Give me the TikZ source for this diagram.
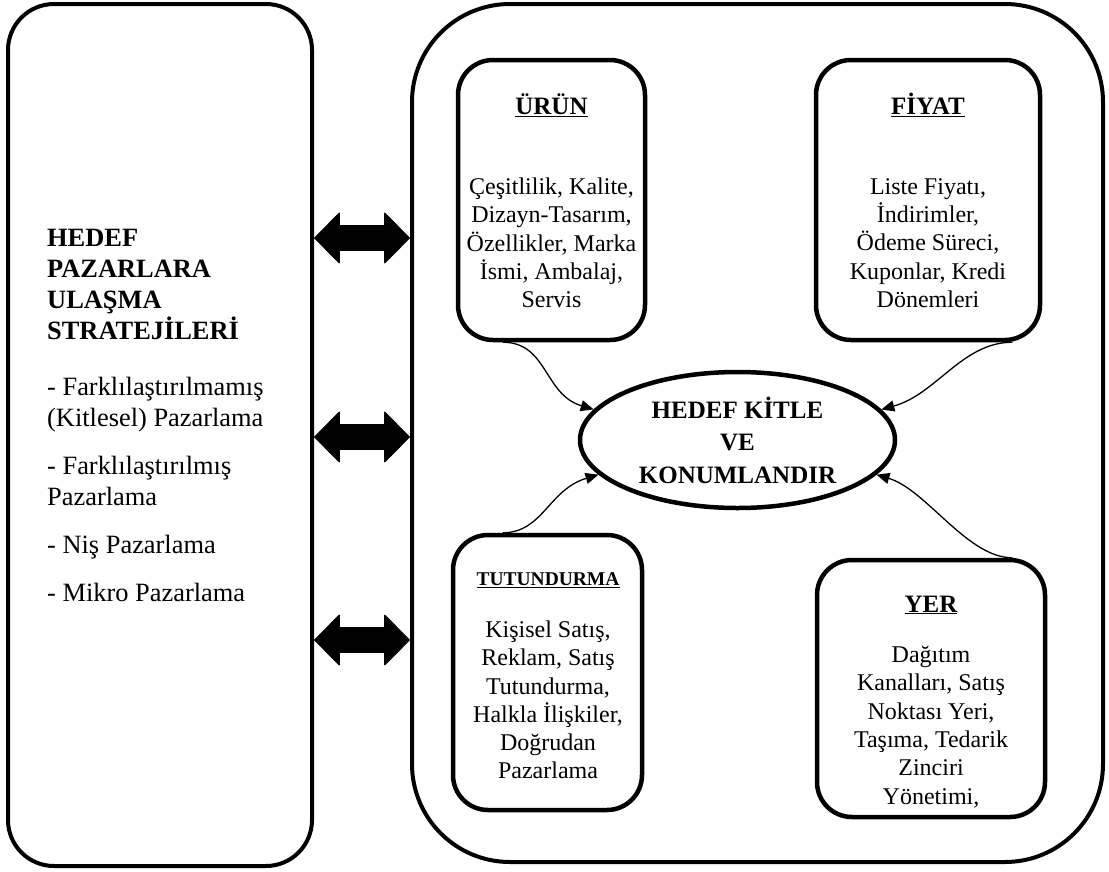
\documentclass[tikz,border=0pt]{standalone}
\usepackage{fontspec}
\setmainfont{Liberation Serif}
\usetikzlibrary{arrows.meta,shapes.geometric}
\begin{document}
\begin{tikzpicture}[x=1pt,y=-1pt,
  bigbox/.style={draw,line width=4pt,inner sep=0pt},
  mixbox/.style={draw,line width=4.5pt,rounded corners=35pt,inner sep=0pt},
  boxhead/.style={font=\fontsize{25}{29}\selectfont\bfseries,inner sep=0pt},
  boxbody/.style={font=\fontsize{24}{28.3}\selectfont,align=center,inner sep=0pt},
  link/.style={line width=1.3pt,-{Triangle[length=13pt 0 0,width=11pt 0 0]}},
  fatarrow/.style={line width=26pt,
    {Triangle[length=26pt 0 0,width=52pt 0 0,line width=1pt 0 0,round]}-{Triangle[length=26pt 0 0,width=52pt 0 0,line width=1pt 0 0,round]}}
]
\useasboundingbox (0,0) rectangle (1109,871);

% outer frames
\node[bigbox,rounded corners=46pt,minimum width=304pt,minimum height=862pt] (L) at (160,435) {};
\node[bigbox,rounded corners=98pt,minimum width=691pt,minimum height=858pt] (B) at (757.5,433) {};

% strategy list
\node[anchor=north west,align=left,inner sep=0pt,font=\fontsize{26.4}{31}\selectfont] (Lt) at (47,229)
  {\textbf{HEDEF}\\\textbf{PAZARLARA}\\\textbf{ULAŞMA}\\\textbf{STRATEJİLERİ}\\[25pt]
   - Farklılaştırılmamış\\(Kitlesel) Pazarlama\\[17pt]
   - Farklılaştırılmış\\Pazarlama\\[17pt]
   - Niş Pazarlama\\[17pt]
   - Mikro Pazarlama};

% marketing mix boxes
\node[mixbox,minimum width=187pt,minimum height=280pt] (U) at (551.5,200) {};
\node[mixbox,minimum width=224pt,minimum height=280pt] (F) at (928,200) {};
\node[mixbox,minimum width=189pt,minimum height=275pt] (T) at (547.5,672.5) {};
\node[mixbox,minimum width=228pt,minimum height=257pt] (Y) at (931,688.5) {};

\node[boxhead] (Uh) at (551.5,105) {\underline{ÜRÜN}};
\node[boxbody] (Ub) at (551.5,243) {Çeşitlilik, Kalite,\\Dizayn-Tasarım,\\Özellikler, Marka\\İsmi, Ambalaj,\\Servis};
\node[boxhead] (Fh) at (928,105) {\underline{FİYAT}};
\node[boxbody] (Fb) at (928,243) {Liste Fiyatı,\\İndirimler,\\Ödeme Süreci,\\Kuponlar, Kredi\\Dönemleri};
\node[boxhead,font=\fontsize{19.5}{23}\selectfont\bfseries] (Th) at (548,580) {\underline{TUTUNDURMA}};
\node[boxbody] (Tb) at (548,700) {Kişisel Satış,\\Reklam, Satış\\Tutundurma,\\Halkla İlişkiler,\\Doğrudan\\Pazarlama};
\node[boxhead] (Yh) at (931,605) {\underline{YER}};
\node[boxbody] (Yb) at (931,727) {Dağıtım\\Kanalları, Satış\\Noktası Yeri,\\Taşıma, Tedarik\\Zinciri\\Yönetimi,};

% target audience
\node[ellipse,draw,line width=4.5pt,inner sep=0pt,minimum width=315pt,minimum height=136pt,
  align=center,font=\fontsize{25}{32.5}\selectfont\bfseries] (E) at (737.5,440)
  {HEDEF KİTLE\\VE\\KONUMLANDIR};

% two-way links between the strategies and the mix
\coordinate (a1) at (0,238);
\coordinate (a2) at (0,437);
\coordinate (a3) at (0,640);
\draw[fatarrow] (L.east |- a1) -- (B.west |- a1);
\draw[fatarrow] (L.east |- a2) -- (B.west |- a2);
\draw[fatarrow] (L.east |- a3) -- (B.west |- a3);

% mix elements feeding the target audience
\draw[link] ([xshift=47pt]U.south west) .. controls +(45,0) and +(-50,-15) .. (E.168);
\draw[link] ([xshift=-30pt]F.south east) .. controls +(-50,0) and +(55,-15) .. (E.12);
\draw[link] ([xshift=52pt]T.north west) .. controls +(40,0) and +(-50,15) .. (E.194);
\draw[link] ([xshift=-35pt]Y.north east) .. controls +(-45,0) and +(50,15) .. (E.-14);
\end{tikzpicture}
\end{document}
